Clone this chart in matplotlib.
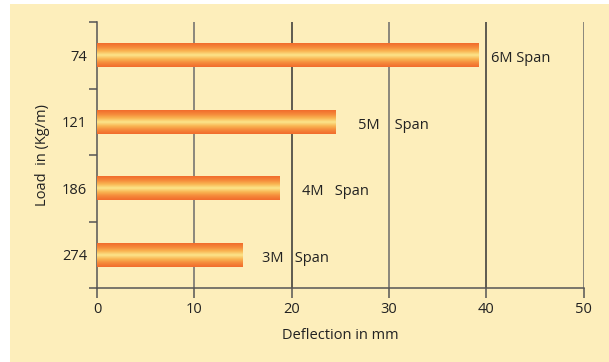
import matplotlib.pyplot as plt
import numpy as np
from matplotlib.colors import LinearSegmentedColormap
from matplotlib.patches import Rectangle

plt.rcParams['font.family'] = ['Open Sans', 'DejaVu Sans']

# data
loads = ['274', '186', '121', '74']
deflection = [14.9, 18.7, 24.5, 39.2]
span_labels = ['3M   Span', '4M   Span', '5M    Span', '6M Span']
label_gap = [2.1, 2.4, 2.3, 1.3]
x_ticks = [0, 10, 20, 30, 40, 50]

fig = plt.figure(figsize=(6.09, 3.62), dpi=100)
fig.patch.set_facecolor('white')
# yellow panel (small white margin left and top)
fig.patches.append(Rectangle((10 / 609, 0), 1 - 10 / 609, 1 - 4 / 362,
                             transform=fig.transFigure, facecolor='#FDEEBB',
                             edgecolor='none', zorder=-10))

ax = fig.add_axes([97 / 609, 1 - 288 / 362, (583.7 - 97) / 609, (288 - 22) / 362])
ax.set_facecolor('none')

# orange -> yellow -> orange gradient for the bars
grad = LinearSegmentedColormap.from_list(
    'bar', ['#F26C2C', '#F5893A', '#F9B552', '#FCE68C', '#F9B552', '#F5893A', '#F26C2C'])
g = np.linspace(0, 1, 64).reshape(-1, 1)

bar_h = 0.36
y_pos = np.arange(len(loads))
for y, v in zip(y_pos, deflection):
    ax.imshow(g, cmap=grad, aspect='auto', interpolation='bilinear',
              extent=(0, v, y - bar_h / 2, y + bar_h / 2), zorder=3)

fs = 10.5
for y, v, lab, gap in zip(y_pos, deflection, span_labels, label_gap):
    ax.text(v + gap, y - 0.02, lab, va='center_baseline', ha='left', fontsize=fs,
            color='#222222')

# vertical grid lines
for x in x_ticks[1:]:
    ax.axvline(x, color='#333333' if x % 20 == 0 else '#6b6b6b', lw=1.1, zorder=1)

ax.set_xlim(0, 50)
ax.set_ylim(-0.5, len(loads) - 0.5)
ax.set_xticks(x_ticks)
ax.set_yticks(y_pos)
ax.set_yticklabels(loads)
ax.set_yticks(np.arange(-0.5, len(loads)), minor=True)
ax.tick_params(axis='y', which='major', length=0, pad=7, labelsize=fs, labelcolor='#222222')
ax.tick_params(axis='y', which='minor', length=6, width=1.1, color='#555555')
ax.tick_params(axis='x', length=7, width=1.1, color='#555555', pad=3, labelsize=fs,
               labelcolor='#222222')

for s in ['top', 'right']:
    ax.spines[s].set_visible(False)
for s in ['left', 'bottom']:
    ax.spines[s].set_color('#555555')
    ax.spines[s].set_linewidth(1.1)

ax.set_xlabel('Deflection in mm', fontsize=fs, color='#222222', labelpad=8)
ax.set_ylabel('Load  in (Kg/m)', fontsize=fs, color='#222222', labelpad=9)

plt.savefig('out.png', dpi=100)
